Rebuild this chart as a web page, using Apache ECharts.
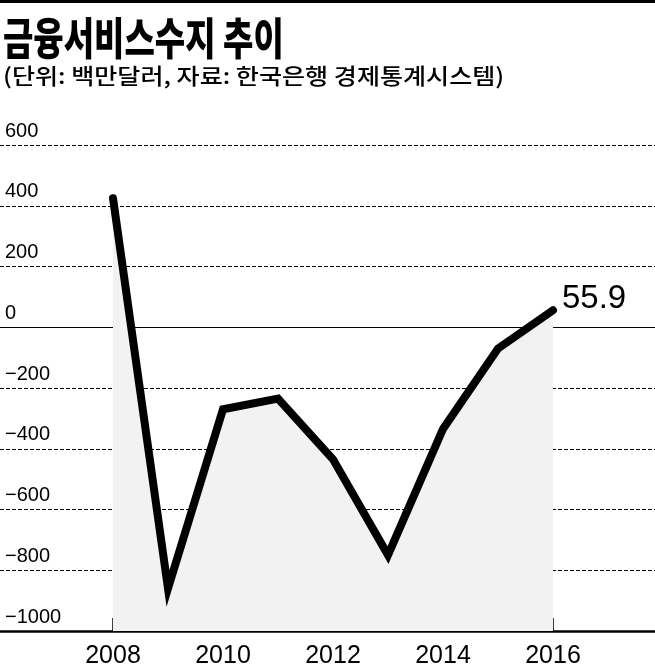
<!DOCTYPE html>
<html>
<head>
<meta charset="utf-8">
<script src="https://cdn.jsdelivr.net/npm/echarts@6/dist/echarts.min.js"></script>
<style>
html,body{margin:0;padding:0;background:#fff;}
#c{width:655px;height:669px;}
</style>
</head>
<body>
<div id="c"></div>
<script>
const title = '금융서비스수지 추이';
const subtitle = '(단위: 백만달러, 자료: 한국은행 경제통계시스템)';
const years = [2008, 2009, 2010, 2011, 2012, 2013, 2014, 2015, 2016];
const values = [425, -860, -270, -235, -435, -750, -335, -70, 55.9];
const xLabelYears = [2008, 2010, 2012, 2014, 2016];
const yTicks = [-1000, -800, -600, -400, -200, 0, 200, 400, 600];
const endLabel = '55.9';

const numFont = '"Liberation Sans", Arial, sans-serif';
const chart = echarts.init(document.getElementById('c'));
const data = years.map((y, i) => [y, values[i]]);
const xMin = 2008 - 113 / 55;
const xMax = xMin + 655 / 55;

chart.setOption({
  animation: false,
  backgroundColor: '#fff',
  grid: { left: 0, right: 0, top: 145, height: 488 },
  xAxis: {
    type: 'value', min: xMin, max: xMax,
    splitLine: { show: false },
    axisLine: { show: true, onZero: false, lineStyle: { color: '#000', width: 2.5 } },
    axisTick: { show: true, inside: true, length: 13, customValues: years, lineStyle: { color: '#000', width: 1.5 } },
    axisLabel: { customValues: xLabelYears, margin: 13, fontSize: 25, color: '#000', fontFamily: numFont, formatter: v => String(v) }
  },
  yAxis: {
    type: 'value', min: yTicks[0], max: yTicks[yTicks.length - 1], interval: 200,
    axisLine: { show: false }, axisTick: { show: false },
    splitLine: { show: true, lineStyle: { color: '#000', width: 1, type: [4, 2] } },
    axisLabel: {
      inside: true, margin: 5, fontSize: 20, color: '#000', fontFamily: numFont,
      verticalAlign: 'bottom', lineHeight: 20, padding: [0, 0, 4, 0],
      showMinLabel: true, showMaxLabel: true,
      formatter: v => (v < 0 ? '\u2212' + Math.abs(v) : String(v))
    }
  },
  series: [{
    type: 'line', data: data, symbol: 'none', z: 3,
    lineStyle: { color: '#000', width: 8, join: 'miter', cap: 'round' },
    areaStyle: { color: '#f2f2f2', origin: 'start', opacity: 1 },
    endLabel: {
      show: true, formatter: endLabel, distance: 9, offset: [0, -11],
      fontSize: 33, color: '#000', fontFamily: numFont
    },
    markLine: {
      silent: true, symbol: 'none', label: { show: false },
      lineStyle: { color: '#000', width: 1, type: 'solid' },
      data: [{ yAxis: 0 }], z: 1
    }
  }],
  graphic: [
    { type: 'rect', left: 0, top: 0, shape: { width: 655, height: 3 }, style: { fill: '#000' } },
    { type: 'text', x: 3, y: 16, scaleX: 0.75, style: { text: title, font: '900 44px "Noto Sans CJK KR"', fill: '#000' } },
    { type: 'text', x: 3, y: 65, scaleX: 1.14, style: { text: subtitle, font: '500 22px "Noto Sans CJK KR"', fill: '#000' } }
  ]
});
</script>
</body>
</html>
